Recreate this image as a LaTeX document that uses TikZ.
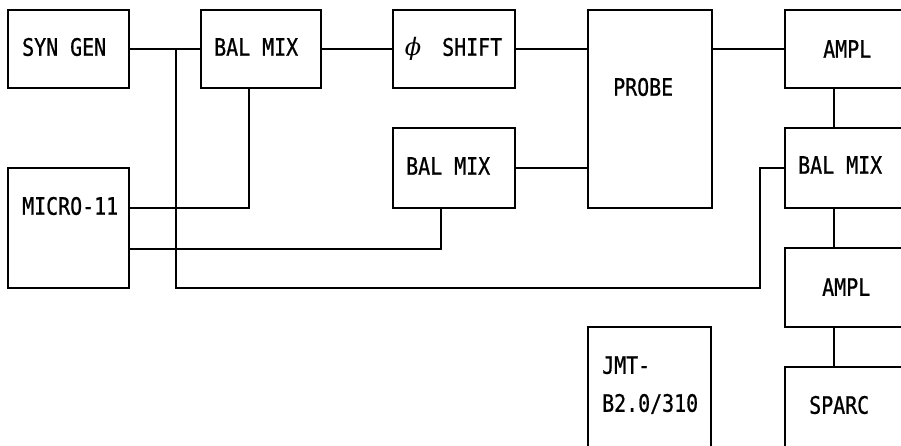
\documentclass[tikz,border=0pt]{standalone}
\usepackage{fontspec}
\newfontfamily\plotfont[FakeStretch=0.83, FakeBold=0.8]{DejaVu Sans Mono}
\newfontfamily\phifont{DejaVu Serif}
\begin{document}
\begin{tikzpicture}[x=1pt,y=-1pt,
  box/.style={draw=black, line width=1.5pt, inner sep=0pt, rectangle},
  lbl/.style={anchor=west, inner sep=0pt, text height=17.5pt, text depth=0pt,
    font=\plotfont\fontsize{24}{28}\selectfont},
  wire/.style={draw=black, line width=1.5pt}]
\useasboundingbox (0,0) rectangle (901,446);
\fill[white] (0,0) rectangle (901,446);
\clip (0,0) rectangle (901,446);
% boxes
\node[box, minimum width=121pt, minimum height=78pt] (syn) at (68.5,49) {};
\node[box, minimum width=120pt, minimum height=78pt] (bal1) at (261,49) {};
\node[box, minimum width=122pt, minimum height=78pt] (phi) at (454,49) {};
\node[box, minimum width=124pt, minimum height=198pt] (probe) at (650,109) {};
\node[box, minimum width=125pt, minimum height=78pt] (ampl1) at (847.5,49) {};
\node[box, minimum width=121pt, minimum height=120pt] (micro) at (68.5,228) {};
\node[box, minimum width=122pt, minimum height=80pt] (bal2) at (454,168) {};
\node[box, minimum width=125pt, minimum height=80pt] (bal3) at (847.5,168) {};
\node[box, minimum width=125pt, minimum height=79pt] (ampl2) at (847.5,287.5) {};
\node[box, minimum width=123pt, minimum height=133pt] (jmt) at (649.5,393.5) {};
\node[box, minimum width=125pt, minimum height=93pt] (sparc) at (847.5,413.5) {};
% labels
\node[lbl] (tsyn) at (22,47) {SYN GEN};
\node[lbl] (tbal1) at (214,47) {BAL MIX};
\node[lbl] (tphi) at (442,47) {\llap{{\phifont\itshape\fontsize{24}{28}\selectfont ϕ}\hspace{21pt}}SHIFT};
\node[lbl] (tprobe) at (613,87) {PROBE};
\node[lbl] (tampl1) at (823,49) {AMPL};
\node[lbl] (tmicro) at (22,206) {MICRO-11};
\node[lbl] (tbal2) at (406,166) {BAL MIX};
\node[lbl] (tbal3) at (798,165) {BAL MIX};
\node[lbl] (tampl2) at (822,287) {AMPL};
\node[lbl] (tjmt1) at (602,365) {JMT-};
\node[lbl] (tjmt2) at (602,403) {B2.0/310};
\node[lbl] (tsparc) at (809,405) {SPARC};
% connectors
\coordinate (j1) at (176,49);
\coordinate (j2) at (760,288);
\coordinate (rx) at (834,0);
\draw[wire] (syn.east) -- (bal1.west);
\draw[wire] (j1) |- (j2) |- (bal3.west);
\draw[wire] ([xshift=-12pt]bal1.south) |- ([yshift=20pt]micro.east);
\draw[wire] ([yshift=-21pt]micro.east) -| ([xshift=-13pt]bal2.south);
\draw[wire] (bal1.east) -- (phi.west);
\draw[wire] (phi.east) -- (phi.east -| probe.west);
\draw[wire] (bal2.east) -- (bal2.east -| probe.west);
\draw[wire] (ampl1.west -| probe.east) -- (ampl1.west);
\draw[wire] (ampl1.south -| rx) -- (bal3.north -| rx);
\draw[wire] (bal3.south -| rx) -- (ampl2.north -| rx);
\draw[wire] (ampl2.south -| rx) -- (sparc.north -| rx);
\end{tikzpicture}
\end{document}
